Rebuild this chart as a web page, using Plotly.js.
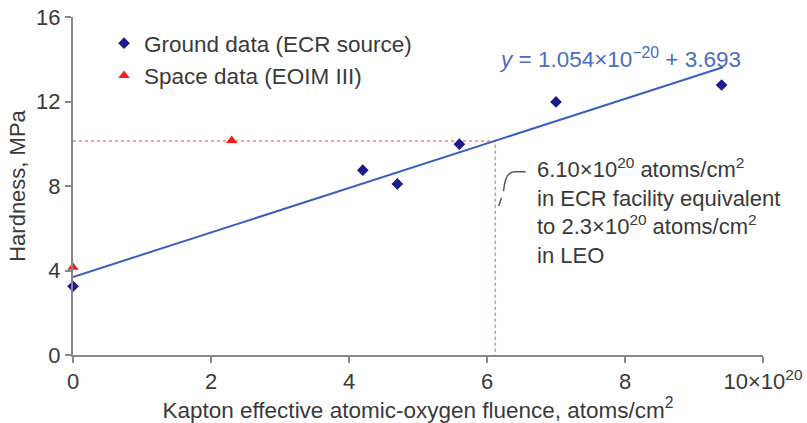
<!DOCTYPE html>
<html><head><meta charset="utf-8">
<script src="https://cdn.plot.ly/plotly-3.0.1.min.js"></script>
<style>html,body{margin:0;padding:0;background:#fff}#c{width:807px;height:423px}</style>
</head><body><div id="c"></div>
<script>
const groundX = [0, 4.2, 4.7, 5.6, 7.0, 9.4];
const groundY = [3.25, 8.75, 8.1, 9.98, 11.98, 12.78];
const spaceX = [0, 2.3];
const spaceY = [4.15, 10.15];
const fitX = [0, 9.42];
const fitY = [3.693, 13.62];
const refX = [0, 6.12, 6.12];
const refY = [10.13, 10.13, 0];
const xTickVals = [0, 2, 4, 6, 8, 10];
const xTickText = ['0', '2', '4', '6', '8', '10×10<sup>20</sup>'];
const yTickVals = [0, 4, 8, 12, 16];

const font = 'Liberation Sans, Arial, sans-serif';
const traces = [
  {x: refX, y: refY, mode: 'lines', line: {color: '#ff7a7a', width: 1.6, dash: 'dot'}, showlegend: false, hoverinfo: 'skip'},
  {x: fitX, y: fitY, mode: 'lines', line: {color: '#3a5fc0', width: 2}, showlegend: false},
  {x: groundX, y: groundY, mode: 'markers', name: 'Ground data (ECR source)',
   marker: {symbol: 'diamond', size: 9, color: '#1c1c8a'}, cliponaxis: false},
  {x: spaceX, y: spaceY, mode: 'markers', name: 'Space data (EOIM III)',
   marker: {symbol: 'triangle-up', size: 10, color: '#ff1a1a'}, cliponaxis: false}
];
const layout = {
  width: 807, height: 423,
  margin: {l: 73, r: 44, t: 17, b: 68},
  paper_bgcolor: '#fff', plot_bgcolor: '#fff',
  font: {family: font, size: 22, color: '#3a3a3a'},
  xaxis: {range: [0, 10], tickvals: xTickVals, ticktext: xTickText, showgrid: false, zeroline: false,
    showline: true, linecolor: '#888', linewidth: 2, ticks: 'outside', ticklen: 6, tickcolor: '#888', tickwidth: 2,
    tickfont: {size: 22},
    title: {text: 'Kapton effective atomic-oxygen fluence, atoms/cm<sup>2</sup>', font: {size: 22.5}, standoff: 6}},
  yaxis: {range: [0, 16], tickvals: yTickVals, showgrid: false, zeroline: false,
    showline: true, linecolor: '#888', linewidth: 2, ticks: 'outside', ticklen: 6, tickcolor: '#888', tickwidth: 2,
    tickfont: {size: 22},
    title: {text: 'Hardness, MPa', font: {size: 22}, standoff: 4}},
  legend: {x: 0.045, y: 0.985, xanchor: 'left', yanchor: 'top', bgcolor: 'rgba(0,0,0,0)', font: {size: 22.5}, tracegroupgap: 0},
  annotations: [
    {x: 7.93, y: 14.05, xref: 'x', yref: 'y', showarrow: false, text: '<i>y</i> = 1.054×10<sup>−20</sup> + 3.693',
     font: {size: 22.5, color: '#4a6cc2'}},
    {x: 6.70, y: 6.8, xref: 'x', yref: 'y', xanchor: 'left', yanchor: 'middle', align: 'left', showarrow: false,
     text: '6.10×10<sup>20</sup> atoms/cm<sup>2</sup><br>in ECR facility equivalent<br>to 2.3×10<sup>20</sup> atoms/cm<sup>2</sup><br>in LEO',
     font: {size: 22, color: '#3a3a3a'}}
  ],
  shapes: [
    {type: 'path', xref: 'x', yref: 'y', path: 'M 6.17,7.05 L 6.21,7.45 M 6.24,7.75 Q 6.26,8.68 6.4,8.68 L 6.56,8.68',
     line: {color: '#555', width: 1.5}}
  ]
};
Plotly.newPlot('c', traces, layout, {displayModeBar: false, staticPlot: true});
</script></body></html>
